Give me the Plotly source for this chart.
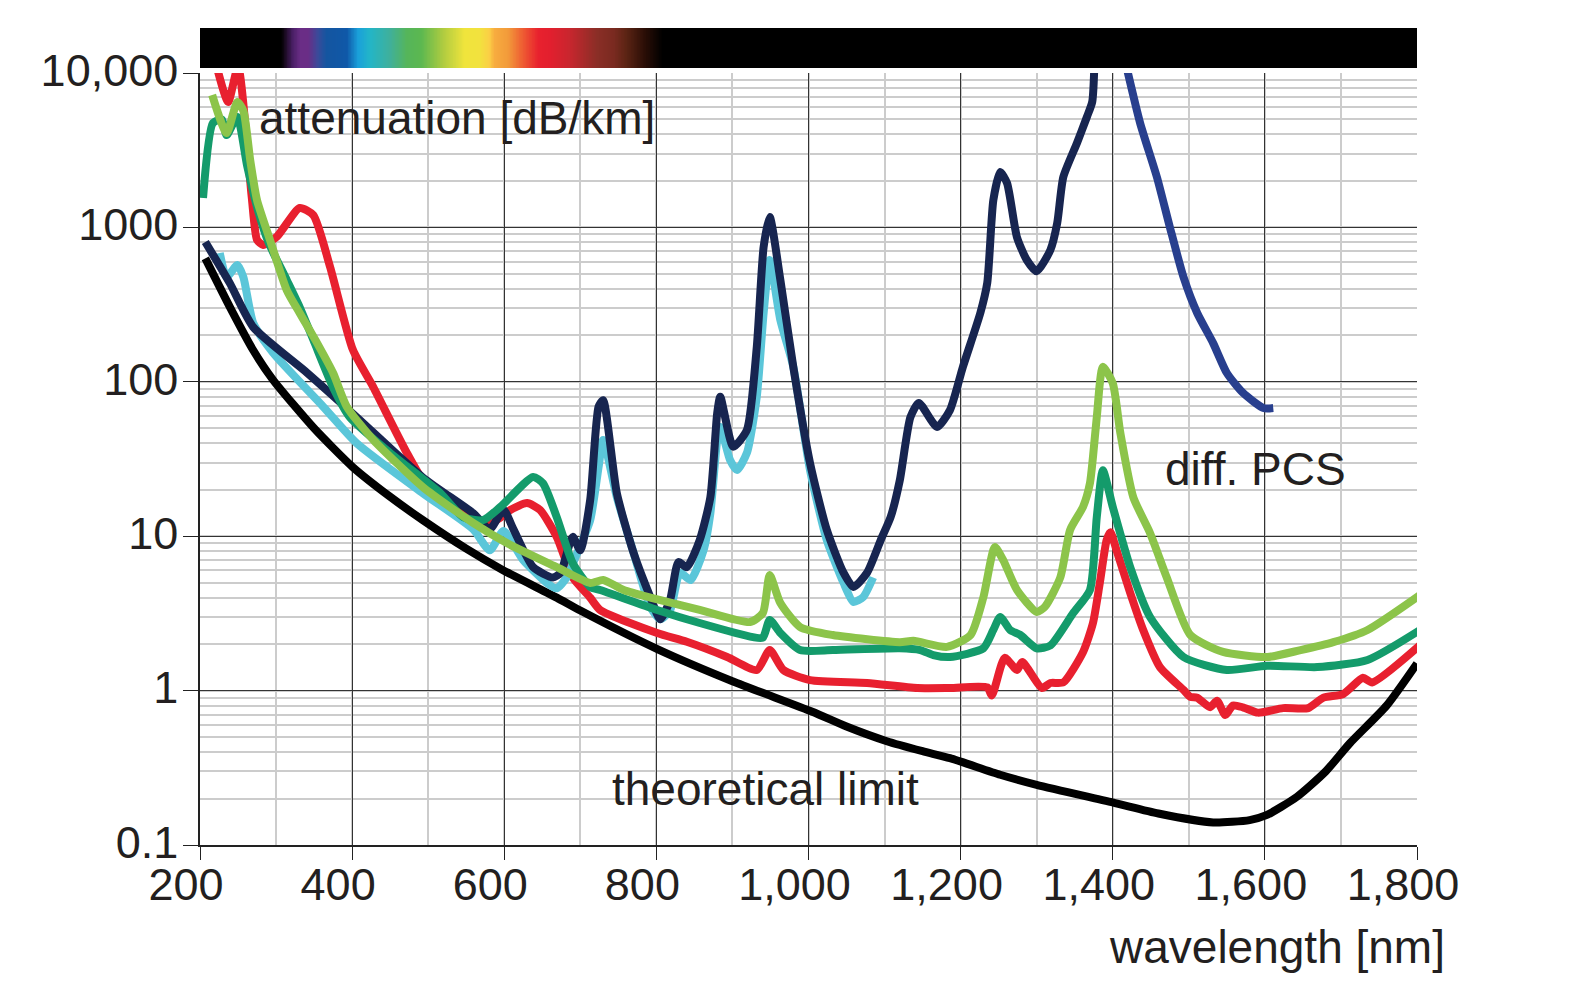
import numpy as np
import plotly.graph_objects as go

# ---------------- data ----------------
wl_limit = [207, 240, 270, 296, 350, 401, 450, 493, 550, 599, 669, 700, 802, 900, 1005, 1050, 1103, 1150,
            1186, 1252, 1300, 1403, 1460, 1532, 1580, 1602, 1642, 1680, 1712, 1760, 1800]
att_limit = [630, 300, 160, 103, 50, 28, 18, 12.7, 8.3, 6.0, 4.0, 3.3, 1.85, 1.15, 0.73, 0.585, 0.47, 0.405,
             0.365, 0.285, 0.245, 0.187, 0.16, 0.14, 0.145, 0.156, 0.205, 0.30, 0.458, 0.8, 1.5]

wl_red = [222, 237, 250, 268, 275, 283, 301, 331, 349, 371, 401, 428, 472, 502, 559, 581, 594, 608, 630, 647,
          669, 690, 713, 726, 801, 840, 893, 932, 949, 967, 1002, 1077, 1143, 1186, 1235, 1241, 1258, 1274,
          1281, 1307, 1318, 1335, 1361, 1374, 1383, 1392, 1397, 1405, 1423, 1440, 1462, 1493, 1502, 1511,
          1528, 1537, 1548, 1558, 1571, 1591, 1624, 1657, 1677, 1703, 1729, 1741, 1804]
att_red = [11000, 6500, 11000, 1575, 830, 770, 870, 1335, 1200, 555, 161, 92, 34.6, 19.9, 13.3, 12.2, 13.1,
           14.8, 16.4, 14.8, 9.9, 5.4, 4.0, 3.33, 2.36, 2.07, 1.65, 1.36, 1.83, 1.36, 1.17, 1.12, 1.04, 1.04,
           1.05, 0.93, 1.63, 1.36, 1.53, 1.04, 1.12, 1.13, 1.78, 2.74, 4.98, 9.45, 10.6, 8.1, 4.29, 2.47, 1.42,
           1.01, 0.91, 0.9, 0.78, 0.86, 0.695, 0.8, 0.78, 0.72, 0.77, 0.77, 0.9, 0.95, 1.21, 1.13, 1.97]

wl_dkgreen = [204, 217, 229, 235, 249, 262, 276, 290, 314, 331, 349, 375, 397, 450, 516, 546, 572, 595, 638,
              651, 669, 690, 713, 726, 801, 857, 927, 940, 949, 963, 989, 1032, 1120, 1147, 1164, 1186, 1230,
              1243, 1252, 1265, 1278, 1300, 1318, 1348, 1370, 1379, 1387, 1400, 1423, 1449, 1493, 1550, 1603,
              1669, 1735, 1804]
att_dkgreen = [1550, 4740, 5000, 3960, 5190, 2500, 1300, 800, 457, 305, 187, 92, 59, 34.6, 19, 13.3, 12.7,
               15.5, 24.2, 22, 13.3, 6.7, 4.69, 4.48, 3.33, 2.74, 2.22, 2.2, 2.87, 2.36, 1.83, 1.83, 1.88, 1.83,
               1.7, 1.65, 1.88, 2.47, 3.0, 2.47, 2.3, 1.88, 1.96, 3.18, 4.48, 13.3, 26.7, 15.5, 6.3, 3.0, 1.65,
               1.36, 1.45, 1.42, 1.58, 2.47]

wl_ltgreen = [216, 235, 249, 257, 266, 275, 292, 314, 331, 354, 375, 393, 428, 493, 559, 604, 669, 713, 730,
              757, 792, 857, 923, 940, 949, 963, 989, 1032, 1120, 1138, 1182, 1213, 1230, 1245, 1256, 1274,
              1300, 1311, 1331, 1344, 1361, 1370, 1374, 1379, 1387, 1400, 1410, 1427, 1449, 1471, 1502, 1545,
              1603, 1647, 1690, 1735, 1804]
att_ltgreen = [7200, 4080, 6490, 5700, 2730, 1500, 830, 393, 279, 178, 114, 69, 42, 20.8, 12.2, 9.0, 6.3,
               4.98, 5.2, 4.48, 4.0, 3.33, 2.78, 3.18, 5.6, 3.69, 2.58, 2.29, 2.06, 2.1, 1.92, 2.29, 4.04, 8.5,
               7.0, 4.49, 3.23, 3.5, 5.4, 11, 15.5, 22, 32.6, 59, 125, 98, 46.6, 17.9, 10.5, 5.4, 2.29, 1.78,
               1.65, 1.83, 2.06, 2.47, 4.16]

wl_cyan = [226, 235, 249, 257, 270, 296, 362, 406, 493, 559, 581, 599, 625, 656, 669, 682, 696, 713, 724, 730,
           748, 770, 792, 805, 818, 831, 845, 862, 871, 880, 884, 897, 906, 919, 932, 941, 949, 963, 980, 1002,
           1024, 1046, 1059, 1072, 1085]
att_cyan = [683, 477, 570, 477, 240, 154, 69, 40, 19, 11.1, 8.1, 10.8, 7.0, 4.98, 4.6, 5.4, 7.8, 12.7, 28, 42,
            17.9, 7.8, 3.48, 2.9, 3.3, 5.8, 5.2, 8.1, 14.1, 42, 51, 31, 26.8, 34.6, 80, 279, 615, 251, 125,
            26.8, 9.45, 5.0, 3.75, 4.04, 5.4]

wl_navy = [207, 239, 270, 341, 406, 493, 559, 581, 599, 612, 638, 664, 674, 690, 700, 713, 724, 730, 748, 770,
           792, 805, 818, 829, 840, 857, 871, 880, 884, 901, 919, 932, 941, 949, 963, 980, 1002, 1024, 1046,
           1059, 1077, 1095, 1108, 1120, 1134, 1145, 1169, 1186, 1203, 1226, 1235, 1243, 1252, 1261, 1274,
           1287, 1300, 1318, 1327, 1335, 1353, 1366, 1373, 1376]
att_navy = [804, 437, 226, 114, 59, 24, 14.1, 11.1, 14.8, 11.1, 6.3, 5.4, 5.8, 9.9, 8.1, 17.2, 69, 76, 19, 7.8,
            4.04, 2.9, 3.86, 6.8, 6.3, 9.45, 17.9, 63, 80, 38, 48.7, 168, 746, 1167, 457, 125, 29.8, 11, 5.8,
            4.69, 5.8, 9.45, 13.3, 23, 59, 73, 51, 65.6, 125, 280, 437, 1500, 2285, 1940, 866, 615, 520, 714,
            1067, 2120, 3520, 5190, 6500, 12000]

wl_blue = [1418, 1436, 1458, 1475, 1493, 1511, 1532, 1550, 1571, 1598, 1611]
att_blue = [11000, 4740, 2120, 1007, 477, 279, 178, 114, 85, 67.6, 67.6]

x_ticks = [200, 400, 600, 800, 1000, 1200, 1400, 1600, 1800]
x_ticktext = ["200", "400", "600", "800", "1,000", "1,200", "1,400", "1,600", "1,800"]
y_ticks = [0.1, 1, 10, 100, 1000, 10000]
y_ticktext = ["0.1", "1", "10", "100", "1000", "10,000"]

# spectrum colour bar (wavelength position -> colour)
spec_nm = [200, 307, 312, 322, 332, 342, 355, 366, 393, 408, 423, 450, 472, 491, 520, 548, 568, 580, 587,
           605, 625, 645, 661, 686, 722, 744, 760, 785, 808, 1800]
spec_colors = ["#000000", "#000000", "#1a0a20", "#4a1f66", "#6a2d86", "#6a2d86", "#3a4a9a", "#1455a0",
               "#0f58a8", "#1aa0da", "#22b5c8", "#40b09a", "#55b55a", "#5cb850", "#b0cc40", "#f0e43c",
               "#f2e23e", "#fbcf45", "#f7ad3f", "#f29a3a", "#ee5a32", "#e8212e", "#e21f2e", "#c8262e",
               "#8a2e26", "#7a2a20", "#5c2414", "#2a0e06", "#000000", "#000000"]

# ---------------- figure geometry ----------------
W, H = 1570, 1000
ML, MR, MT, MB = 200, 153, 28, 155
PW, PH = W - ML - MR, H - MT - MB


def px(xp):
    return (xp - ML) / PW


def py(yp):
    return (H - MB - yp) / PH


FONT = "Liberation Sans, Arial, Helvetica, sans-serif"
TXT = "#231f20"

fig = go.Figure()

# spectrum bar
xs = np.arange(200.5, 1800, 1.0)
cscale = [[(n - 200) / 1600, c] for n, c in zip(spec_nm, spec_colors)]
fig.add_trace(go.Heatmap(x=xs, y=[0], z=[xs], colorscale=cscale, zmin=200, zmax=1800,
                         showscale=False, hoverinfo="skip", xaxis="x2", yaxis="y2"))

series = [
    (wl_limit, att_limit, "#000000"),
    (wl_blue, att_blue, "#283f8e"),
    (wl_red, att_red, "#e8202f"),
    (wl_cyan, att_cyan, "#5bc6d9"),
    (wl_navy, att_navy, "#172550"),
    (wl_dkgreen, att_dkgreen, "#149b6b"),
    (wl_ltgreen, att_ltgreen, "#8cc44a"),
]
for xv, yv, col in series:
    fig.add_trace(go.Scatter(x=xv, y=yv, mode="lines",
                             line=dict(color=col, width=8, shape="spline", smoothing=0.6),
                             showlegend=False, hoverinfo="skip"))

# white label boxes (cover the grid, stay under the curves)
boxes = [(255, 655, 87, 155), (1150, 1360, 443, 503), (600, 945, 765, 828)]
for x0, x1, y0, y1 in boxes:
    fig.add_shape(type="rect", xref="paper", yref="paper", x0=px(x0), x1=px(x1), y0=py(y1), y1=py(y0),
                  fillcolor="white", line=dict(width=0), layer="between")

labels = [
    ("attenuation [dB/km]", 257, 118, "left"),
    ("diff. PCS", 1163, 469, "left"),
    ("theoretical limit", 610, 789, "left"),
    ("wavelength [nm]", 1447, 947, "right"),
]
for t, xp_, yp_, anc in labels:
    fig.add_annotation(text=t, xref="paper", yref="paper", x=px(xp_), y=py(yp_), xanchor=anc,
                       yanchor="middle", showarrow=False, font=dict(family=FONT, size=46, color=TXT))

fig.update_layout(
    width=W, height=H, margin=dict(l=ML, r=MR, t=MT, b=MB, autoexpand=False),
    paper_bgcolor="white", plot_bgcolor="white", showlegend=False,
    xaxis=dict(range=[200, 1800], domain=[0, 1], anchor="y", tickvals=x_ticks, ticktext=x_ticktext,
               ticks="outside", ticklen=13, tickwidth=1.3, tickcolor="#222",
               showline=True, linecolor="#222", linewidth=1.5,
               showgrid=True, gridcolor="#333", gridwidth=1.2, zeroline=False,
               minor=dict(dtick=100, showgrid=True, gridcolor="#cccccc", gridwidth=1.6, ticks=""),
               tickfont=dict(family=FONT, size=45, color=TXT), ticklabelshift=-14, ticklabelstandoff=-14),
    yaxis=dict(type="log", range=[-1, 4], domain=[0, py(73)], anchor="x", tickvals=y_ticks,
               ticktext=y_ticktext, ticks="outside", ticklen=15, tickwidth=1.3, tickcolor="#222",
               showline=True, linecolor="#222", linewidth=1.5,
               showgrid=True, gridcolor="#333", gridwidth=1.2, zeroline=False,
               minor=dict(dtick="D1", showgrid=True, gridcolor="#cccccc", gridwidth=1.6, ticks=""),
               tickfont=dict(family=FONT, size=45, color=TXT), ticklabelstandoff=-4, ticklabelshift=-3),
    xaxis2=dict(range=[200, 1800], domain=[0, 1], anchor="y2", visible=False),
    yaxis2=dict(range=[-0.5, 0.5], domain=[py(68), 1], anchor="x2", visible=False),
)

fig.write_html("out.html")
